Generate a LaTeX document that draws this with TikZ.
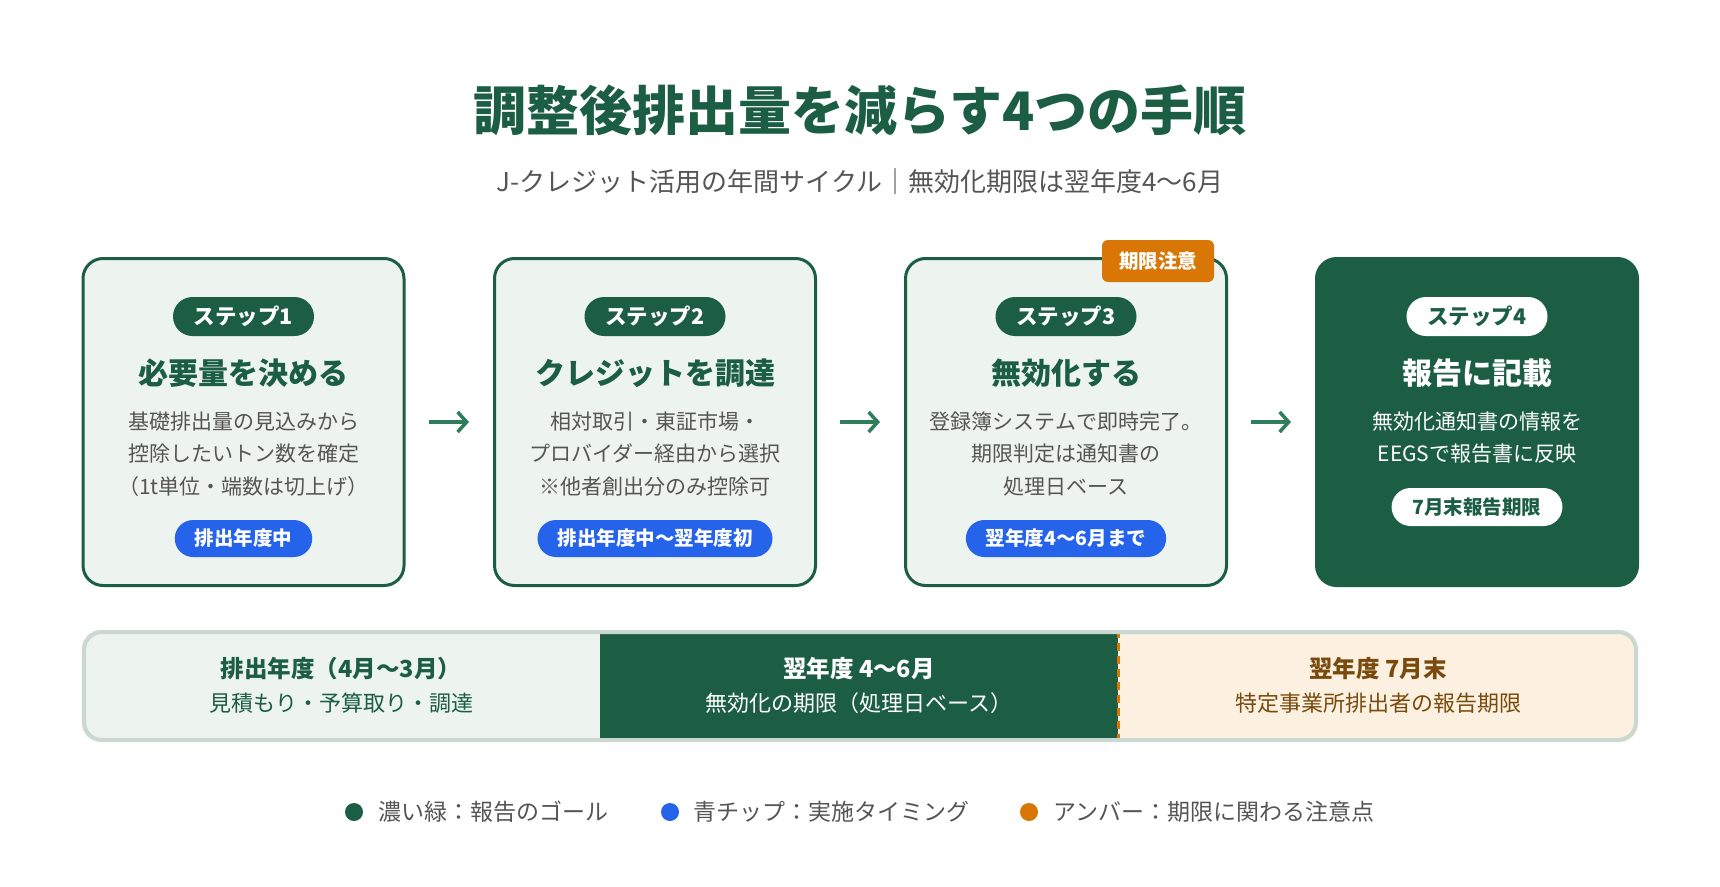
\documentclass[tikz,border=0pt]{standalone}
\usepackage{fontspec}
\setmainfont{Noto Sans CJK JP}
\usetikzlibrary{arrows.meta}
\definecolor{dg}{HTML}{1B5E43}
\definecolor{arrg}{HTML}{2E7D5B}
\definecolor{cardbg}{HTML}{EDF3EF}
\definecolor{txtgray}{HTML}{555555}
\definecolor{chipblue}{HTML}{2563EB}
\definecolor{amber}{HTML}{D97706}
\definecolor{cream}{HTML}{FCF1E1}
\definecolor{brown}{HTML}{7A4A0C}
\definecolor{tlborder}{HTML}{CBD7D1}
\newcommand{\setfs}[2]{\fontsize{#1}{#2}\selectfont}
\begin{document}
\begin{tikzpicture}[x=1pt,y=-1pt,
  card/.style={draw=dg, line width=3pt, fill=cardbg, rounded corners=20pt,
    minimum width=321pt, minimum height=327pt, inner sep=0pt},
  goalcard/.style={card, fill=dg},
  steppill/.style={fill=dg, text=white, rounded corners=19.5pt, minimum height=39pt,
    minimum width=141pt, inner sep=0pt, font=\bfseries\setfs{21.5}{21.5}},
  steppillw/.style={steppill, fill=white, text=dg},
  cardtitle/.style={text=dg, font=\bfseries\setfs{30}{32}, inner sep=0pt},
  cardbody/.style={text=txtgray, font=\setfs{21}{32.5}, align=center, inner sep=0pt},
  chip/.style={fill=chipblue, text=white, rounded corners=18.5pt, minimum height=37pt,
    inner ysep=0pt, inner xsep=20pt, font=\bfseries\setfs{19.5}{19.5}},
  chipw/.style={chip, fill=white, text=dg, minimum height=38pt, rounded corners=19pt, inner xsep=21pt},
  flow/.style={draw=arrg, line width=3.5pt, -{Straight Barb[length=9pt,width=20pt,line width=3.5pt]}},
  tltitle/.style={font=\bfseries\setfs{23.5}{23.5}, inner sep=0pt},
  tlbody/.style={font=\setfs{22}{22}, inner sep=0pt},
  legtext/.style={text=txtgray, font=\setfs{23}{23}, anchor=west, inner sep=0pt},
  legdot/.style={circle, minimum size=18pt, inner sep=0pt},
]
\useasboundingbox (0,0) rectangle (1720,886);

% title
\node[text=dg, font=\bfseries\setfs{53}{60}] (title) at (860,110) {調整後排出量を減らす4つの手順};
\node[text=txtgray, font=\setfs{26}{28}] (subtitle) at (860,182) {J-クレジット活用の年間サイクル｜無効化期限は翌年度4〜6月};

% cards
\node[card] (c1) at (243.5,422) {};
\node[card] (c2) at (655,422) {};
\node[card] (c3) at (1066,422) {};
\node[goalcard] (c4) at (1477,422) {};

% card 1
\node[steppill] (p1) at (243.5,316.5) {ステップ1};
\node[cardtitle] (t1) at (243.5,373) {必要量を決める};
\node[cardbody] (b1) at (243.5,454) {基礎排出量の見込みから\\控除したいトン数を確定\\（1t単位・端数は切上げ）};
\node[chip] (k1) at (243.5,538.5) {排出年度中};

% card 2
\node[steppill] (p2) at (655,316.5) {ステップ2};
\node[cardtitle] (t2) at (655,373) {クレジットを調達};
\node[cardbody] (b2) at (655,454) {相対取引・東証市場・\\プロバイダー経由から選択\\※他者創出分のみ控除可};
\node[chip] (k2) at (655,538.5) {排出年度中〜翌年度初};

% card 3
\node[steppill] (p3) at (1066,316.5) {ステップ3};
\node[cardtitle] (t3) at (1066,373) {無効化する};
\node[cardbody] (b3) at (1066,454) {登録簿システムで即時完了。\\期限判定は通知書の\\処理日ベース};
\node[chip] (k3) at (1066,538.5) {翌年度4〜6月まで};
\node[fill=amber, text=white, rounded corners=6pt, minimum width=112pt, minimum height=42pt,
  inner sep=0pt, font=\bfseries\setfs{19.5}{19.5}] (warn) at (1158,261) {期限注意};

% card 4
\node[steppillw] (p4) at (1477,316.5) {ステップ4};
\node[cardtitle, text=white] (t4) at (1477,373) {報告に記載};
\node[cardbody, text=white] (b4) at (1477,437.5) {無効化通知書の情報を\\EEGSで報告書に反映};
\node[chipw] (k4) at (1477,507) {7月末報告期限};

% arrows
\draw[flow] ([xshift=23pt]c1.east) -- ([xshift=-24pt]c2.west);
\draw[flow] ([xshift=23pt]c2.east) -- ([xshift=-24pt]c3.west);
\draw[flow] ([xshift=23pt]c3.east) -- ([xshift=-24pt]c4.west);

% timeline
\begin{scope}
  \clip[rounded corners=18pt] (82,630) rectangle (1638,742);
  \node[fill=cardbg, minimum width=518pt, minimum height=112pt, inner sep=0pt] (s1) at (341,686) {};
  \node[fill=dg, minimum width=518pt, minimum height=112pt, inner sep=0pt] (s2) at (859,686) {};
  \node[fill=cream, minimum width=520pt, minimum height=112pt, inner sep=0pt] (s3) at (1378,686) {};
\end{scope}
\draw[amber, line width=3pt, dash pattern=on 8pt off 5pt] (s2.north east) -- (s2.south east);
\node[draw=tlborder, line width=4pt, rounded corners=18pt, minimum width=1552pt, minimum height=108pt, inner sep=0pt] (tl) at (860,686) {};

\node[tltitle, text=dg] (s1a) at (341,669) {排出年度（4月〜3月）};
\node[tlbody, text=dg] (s1b) at (341,703) {見積もり・予算取り・調達};
\node[tltitle, text=white] (s2a) at (859,669) {翌年度 4〜6月};
\node[tlbody, text=white] (s2b) at (859,703) {無効化の期限（処理日ベース）};
\node[tltitle, text=brown] (s3a) at (1378,669) {翌年度 7月末};
\node[tlbody, text=brown] (s3b) at (1378,703) {特定事業所排出者の報告期限};

% legend
\node[legdot, fill=dg] (d1) at (354,812) {};
\node[legtext] (l1) at (378,812) {濃い緑：報告のゴール};
\node[legdot, fill=chipblue] (d2) at (670,812) {};
\node[legtext] (l2) at (693,812) {青チップ：実施タイミング};
\node[legdot, fill=amber] (d3) at (1029,812) {};
\node[legtext] (l3) at (1053,812) {アンバー：期限に関わる注意点};
\end{tikzpicture}
\end{document}
